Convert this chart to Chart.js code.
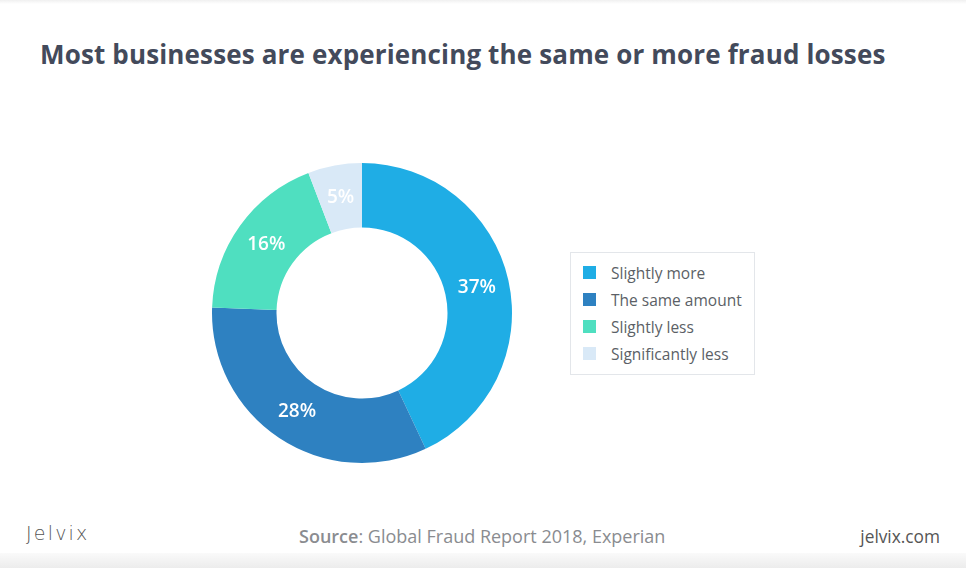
<!DOCTYPE html>
<html>
<head>
<meta charset="utf-8">
<style>
  body {
    margin: 0;
    width: 966px;
    height: 568px;
    overflow: hidden;
    background: #fff;
    font-family: "Open Sans", sans-serif;
    position: relative;
  }
  h1 {
    position: absolute;
    left: 40px;
    top: 36px;
    margin: 0;
    font-size: 26px;
    font-weight: 700;
    color: #434a5b;
    letter-spacing: 0.15px;
    white-space: nowrap;
  }
  #chart-box {
    position: absolute;
    left: 202px;
    top: 153px;
    width: 320px;
    height: 320px;
  }
  #legend {
    position: absolute;
    left: 570px;
    top: 252px;
    width: 185px;
    height: 123px;
    border: 1px solid #e3e6ea;
    box-sizing: border-box;
    padding: 6px 0 0 12px;
  }
  .row {
    height: 27px;
    display: flex;
    align-items: center;
    font-size: 15.5px;
    color: #5b5f66;
  }
  .sw {
    width: 13px;
    height: 13px;
    margin-right: 15px;
  }
  .foot {
    position: absolute;
    top: 524px;
    font-size: 18px;
    color: #8a8c90;
    white-space: nowrap;
  }
  #shadow {
    position: absolute;
    left: 0;
    top: 553px;
    width: 966px;
    height: 15px;
    background: linear-gradient(#fafafa, #ececec);
  }
  #topshade {
    position: absolute;
    left: 0;
    top: 0;
    width: 966px;
    height: 4px;
    background: linear-gradient(#f0f0f0, #fff);
  }
</style>
</head>
<body>
<div id="topshade"></div>
<h1>Most businesses are experiencing the same or more fraud losses</h1>
<div id="chart-box"><canvas id="chart"></canvas></div>
<div id="legend"></div>
<div class="foot" style="left:26px; font-family: 'DejaVu Sans'; font-weight:300; font-size:19px; color:#555; letter-spacing:2.2px; top:522px;">Jelvix</div>
<div class="foot" style="left:299px;"><b style="font-weight:600;">Source</b>: Global Fraud Report 2018, Experian</div>
<div class="foot" style="right:26px; color:#555; font-size:17.3px; top:525px;">jelvix.com</div>
<div id="shadow"></div>

<script src="https://cdn.jsdelivr.net/npm/chart.js"></script>
<script>
  const categories = ['Slightly more', 'The same amount', 'Slightly less', 'Significantly less'];
  const shares = [37, 28, 16, 5];
  const colors = ['#1fade5', '#2e81c1', '#4fdfc0', '#d9e9f7'];

  // legend from the same arrays
  const legend = document.getElementById('legend');
  categories.forEach((name, i) => {
    const row = document.createElement('div');
    row.className = 'row';
    row.innerHTML = '<span class="sw" style="background:' + colors[i] + '"></span>' + name;
    legend.appendChild(row);
  });

  const sliceLabels = {
    id: 'sliceLabels',
    afterDatasetsDraw(chart) {
      const ctx = chart.ctx;
      const meta = chart.getDatasetMeta(0);
      ctx.save();
      ctx.fillStyle = '#fff';
      ctx.font = '600 19px "Open Sans", sans-serif';
      ctx.textAlign = 'center';
      ctx.textBaseline = 'middle';
      meta.data.forEach((arc, i) => {
        const p = arc.tooltipPosition();
        ctx.fillText(shares[i] + '%', p.x, p.y);
      });
      ctx.restore();
    }
  };

  new Chart(document.getElementById('chart'), {
    type: 'doughnut',
    data: {
      labels: categories,
      datasets: [{
        data: shares,
        backgroundColor: colors,
        borderWidth: 0
      }]
    },
    options: {
      responsive: true,
      maintainAspectRatio: false,
      animation: false,
      cutout: '57%',
      layout: { padding: 10 },
      plugins: {
        legend: { display: false },
        tooltip: { enabled: false }
      }
    },
    plugins: [sliceLabels]
  });
</script>
</body>
</html>
